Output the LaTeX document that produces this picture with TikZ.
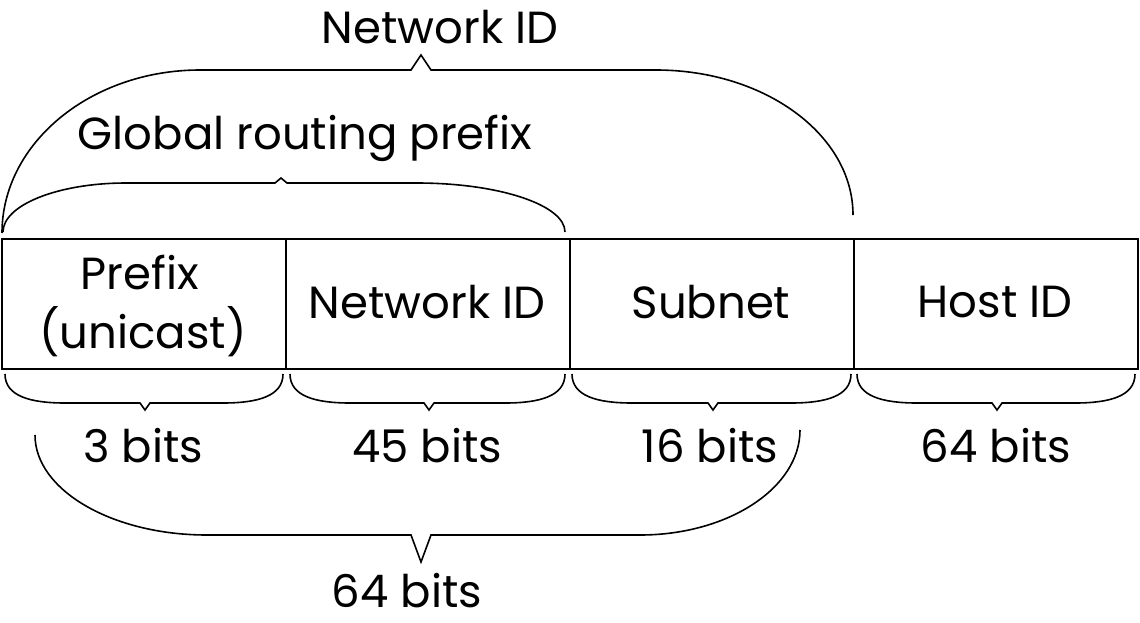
\documentclass[tikz,border=0pt]{standalone}
\usepackage{fontspec}
\setmainfont{Poppins}
\begin{document}
\begin{tikzpicture}[x=1pt,y=-1pt,
  field/.style={draw,line width=2.2pt,minimum width=284pt,minimum height=130pt,inner sep=0pt,anchor=north west},
  lbl/.style={font=\fontsize{45}{54}\selectfont,inner sep=0pt},
  brace/.style={line width=1.6pt,line join=miter}]
\useasboundingbox (0,0) rectangle (1140,622);
\node[field] (f1) at (1,238) {};
\node[field] (f2) at (285,238) {};
\node[field] (f3) at (569,238) {};
\node[field] (f4) at (853,238) {};
\node[lbl] (t1a) at (140,273) {Prefix};
\node[lbl] (t1b) at (143,332) {(unicast)};
\node[lbl] (t2) at (427,302) {Network ID};
\node[lbl] (t3) at (711,302) {Subnet};
\node[lbl] (t4) at (995,302) {Host ID};
\node[lbl] (b1) at (143,446) {3 bits};
\node[lbl] (b2) at (427,446) {45 bits};
\node[lbl] (b3) at (710,446) {16 bits};
\node[lbl] (b4) at (996,446) {64 bits};
\node[lbl] (b5) at (407,591) {64 bits};
\node[lbl] (nid) at (440,27) {Network ID};
\node[lbl] (grp) at (305,138) {Global routing prefix};
% small braces
\foreach \a/\t/\b in {5/145/283, 290/429/565, 572/713/851, 857/997/1135}{
  \draw[brace] (\a,374) .. controls (\a,396) and (\a+25,403) .. (\a+60,403)
    -- (\t-5,403) -- (\t,410) -- (\t+5,403) -- (\b-60,403)
    .. controls (\b-25,403) and (\b,396) .. (\b,374);
}
% bottom 64 bits brace
\draw[brace] (35,435) .. controls (35,490) and (112,535) .. (207,535)
  -- (411,535) -- (421,562) -- (431,535) -- (640,535)
  .. controls (728,535) and (800,488) .. (800,430);
% global routing prefix brace
\draw[brace] (3,232) .. controls (3,205) and (58,183) .. (126,183)
  -- (275,183) -- (281,178) -- (287,183) -- (417,183)
  .. controls (499,183) and (565,205) .. (565,232);
% network ID brace
\draw[brace] (2,233) .. controls (2,143) and (91,70) .. (200,70)
  -- (411,70) -- (421,55) -- (431,70) -- (656,70)
  .. controls (765,70) and (853,135) .. (853,215);
\end{tikzpicture}
\end{document}
